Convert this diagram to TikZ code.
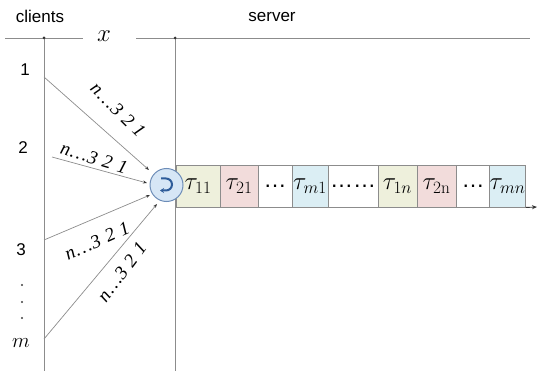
\documentclass[tikz,border=0pt]{standalone}
\usepackage[no-math]{fontspec}
\setmainfont{Liberation Sans}
\newfontfamily\tmsfont{Liberation Serif}
\usetikzlibrary{arrows.meta}
\definecolor{ln}{HTML}{8C8C8C}
\definecolor{qgreen}{HTML}{EEF0DC}
\definecolor{qpink}{HTML}{F2DCDB}
\definecolor{qblue}{HTML}{DBEEF4}
\definecolor{cblue}{HTML}{D6E6F6}
\definecolor{dblue}{HTML}{2E5C9A}
\tikzset{
  axis/.style={draw=ln, line width=0.9pt},
  feed/.style={draw=ln, line width=0.7pt, -{Stealth[length=4pt,width=3pt,black!80]}},
  qbox/.style={draw=ln, line width=0.9pt, minimum height=42, inner sep=0pt, font=\fontsize{23}{23}\selectfont},
  lbl/.style={font=\fontsize{17}{17}\selectfont, inner sep=0pt},
  seq/.style={font=\tmsfont\itshape\fontsize{19}{19}\selectfont, inner sep=0pt},
}
\newcommand{\seqtxt}{n\hspace{1pt}…\hspace{1pt}3\hspace{6pt}2\hspace{6pt}1}
\begin{document}
\begin{tikzpicture}[x=1pt,y=-1pt]
\useasboundingbox (0,0) rectangle (537,371);
% header
\node[lbl] (cl) at (40,16) {clients};
\node[lbl] (sv) at (272,17) {server};
\node[font=\fontsize{26}{26}\selectfont, inner sep=0pt] (xx) at (104,36) {$x$};
\coordinate (hl0) at (5,38);
\coordinate (hl1) at (83,38);
\coordinate (hr0) at (136,38);
\coordinate (hr1) at (530,38);
\draw[axis] (hl0) -- (hl1);
\draw[axis] (hr0) -- (hr1);
\coordinate (va0) at (44,38);
\coordinate (va1) at (44,371);
\coordinate (vb0) at (175,38);
\coordinate (vb1) at (175,371);
\draw[axis] (va0) -- (va1);
\draw[axis] (vb0) -- (vb1);
\fill[black!80] (va0) circle (1.5);
\fill[black!80] (vb0) circle (1.5);
% client labels
\node[lbl] (c1) at (25,70) {1};
\node[lbl] (c2) at (23,148) {2};
\node[lbl] (c3) at (21,250) {3};
\foreach \yy in {285,302,318} \fill[black!75] (22,\yy) circle (1.2);
\node[font=\fontsize{22}{22}\selectfont, inner sep=0pt] (cm) at (21,343) {$m$};
% arrivals
\coordinate (s1) at (44,77);
\coordinate (s2) at (52,157);
\coordinate (s3) at (44,240);
\coordinate (s4) at (44,339);
\coordinate (e1) at (149,170);
\coordinate (e2) at (147,183);
\coordinate (e3) at (150,195);
\coordinate (e4) at (157,204);
\draw[feed] (s1) -- (e1);
\draw[feed] (s2) -- (e2);
\draw[feed] (s3) -- (e3);
\draw[feed] (s4) -- (e4);
\node[seq, rotate=-45] (t1) at (118,110) {\seqtxt};
\node[seq, rotate=-17] (t2) at (94,158) {\seqtxt};
\node[seq, rotate=24] (t3) at (97,241) {\seqtxt};
\node[seq, rotate=53] (t4) at (122,272) {\seqtxt};
% queue
\node[qbox, fill=qgreen, minimum width=44] (q1) at (198,186) {$\tau_{11}$};
\node[qbox, fill=qpink, minimum width=38] (q2) at (239,186) {$\tau_{21}$};
\node[qbox, fill=white, minimum width=34] (q3) at (275,186) {…};
\node[qbox, fill=qblue, minimum width=36] (q4) at (310,186) {$\tau_{m1}$};
\node[qbox, fill=white, minimum width=50] (q5) at (353,186) {……};
\node[qbox, fill=qgreen, minimum width=39] (q6) at (397.5,186) {$\tau_{1n}$};
\node[qbox, fill=qpink, minimum width=39] (q7) at (436.5,186) {$\tau_{2\mathrm{n}}$};
\node[qbox, fill=white, minimum width=34] (q8) at (473,186) {…};
\node[qbox, fill=qblue, minimum width=35] (q9) at (507.5,186) {$\tau_{mn}$};
\coordinate (qend) at (537,207);
\draw[draw=black!80, line width=0.9pt, -{Stealth[length=5pt,width=4pt]}] (q9.south east) -- (qend);
% server circle
\node[circle, draw=dblue!70, fill=cblue, line width=1pt, minimum size=33, inner sep=0pt] (srv) at (166.5,185) {};
\draw[dblue, line width=2pt, -{Stealth[length=4pt,width=5pt]}] (161,178.5) -- (166,178.5) arc (-90:90:6) -- (160,190.5);
\end{tikzpicture}
\end{document}
